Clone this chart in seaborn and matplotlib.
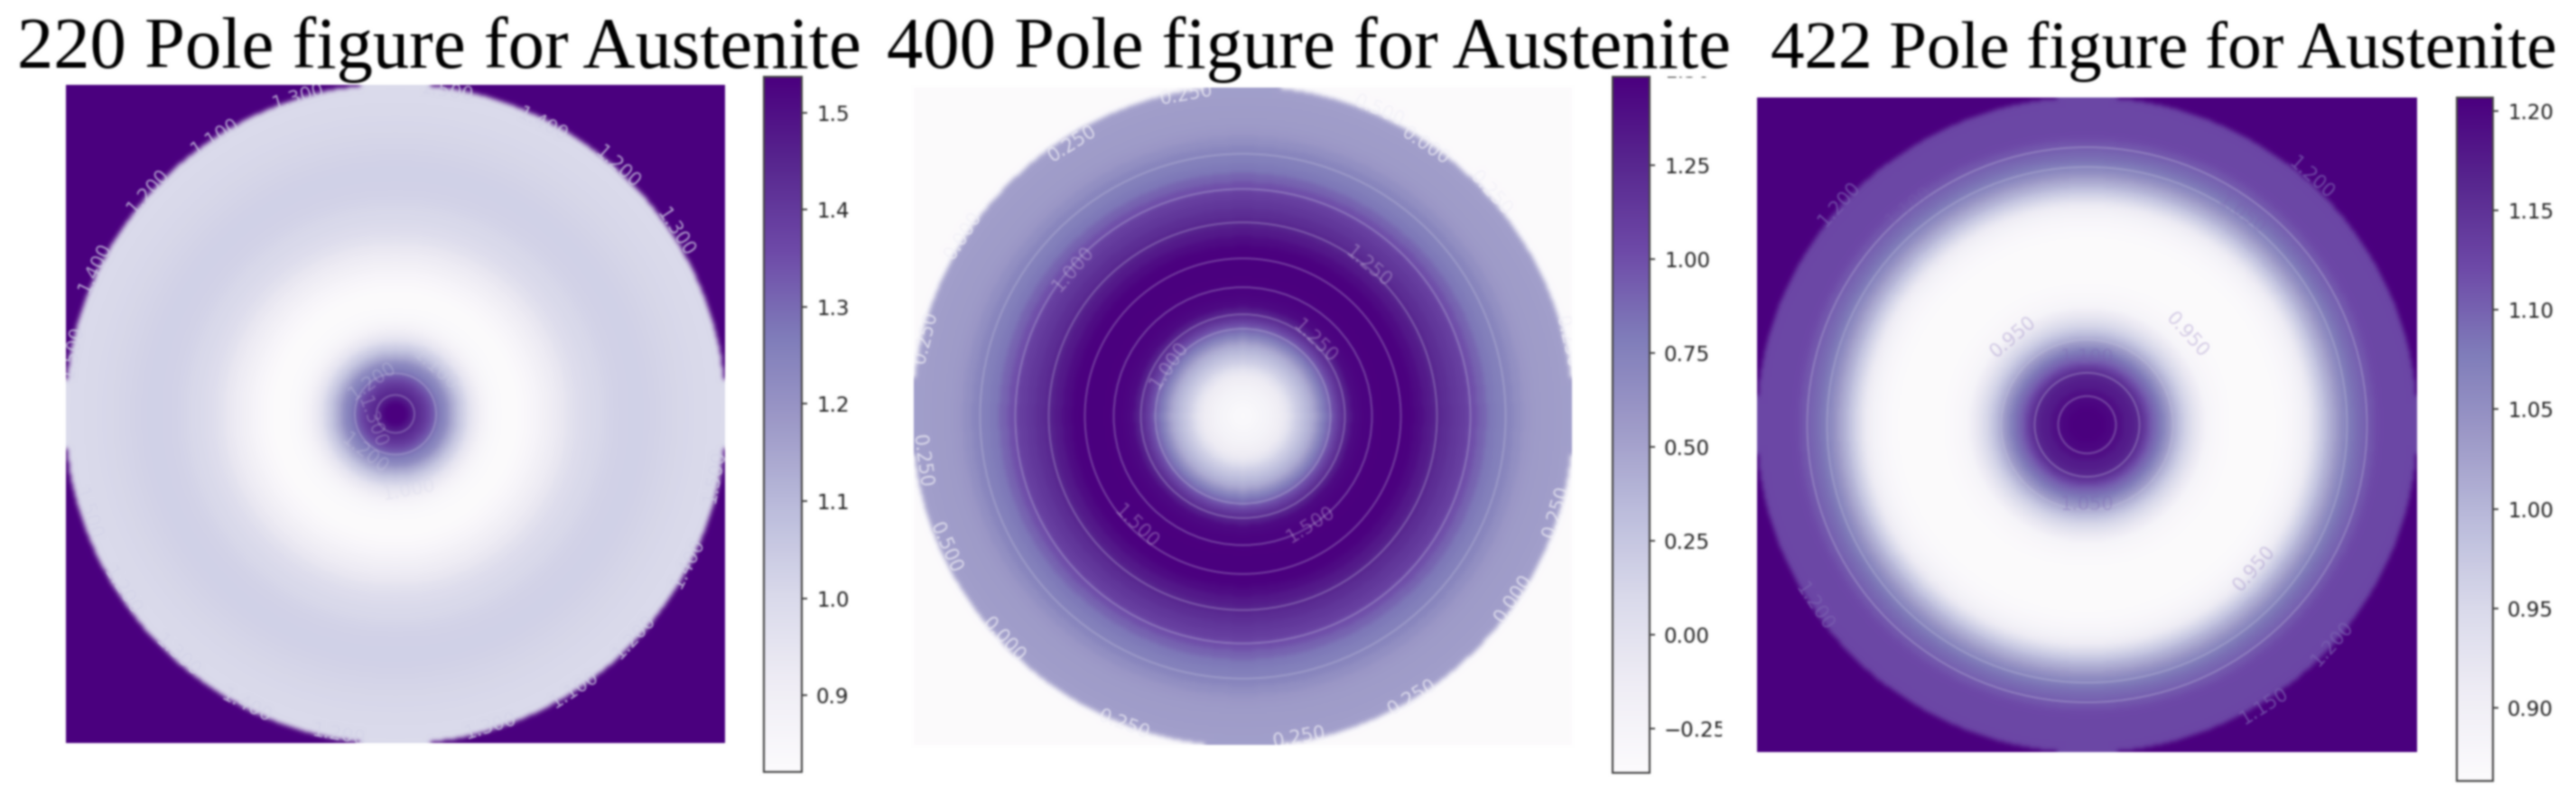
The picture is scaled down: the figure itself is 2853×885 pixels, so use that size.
import numpy as np
import matplotlib
matplotlib.use('Agg')
import matplotlib.pyplot as plt
from matplotlib.patches import Circle
from matplotlib.transforms import Bbox
import seaborn as sns

W, H = 2853, 885

# radial profiles (radius in px of the original, value on the colour bar)
radii_220 = [0, 6, 10, 14, 17, 20, 23, 26, 29, 32, 35, 38, 41, 44, 47, 50, 53, 56, 60, 64, 68, 72, 76, 80, 85,
             90, 95, 102, 110, 120, 130, 140, 150, 160, 170, 180, 190, 200, 212, 225, 232, 240, 250, 260, 272, 285,
             297, 310, 322, 335, 350, 366]
values_220 = [1.537, 1.537, 1.537, 1.530, 1.500, 1.465, 1.450, 1.440, 1.425, 1.410, 1.395, 1.370, 1.350, 1.325,
              1.300, 1.265, 1.250, 1.235, 1.215, 1.150, 1.120, 1.070, 1.040, 1.015, 0.960,
              0.930, 0.900, 0.865, 0.842, 0.828, 0.821, 0.825, 0.838, 0.858, 0.884, 0.910, 0.935, 0.962, 0.985,
              1.000, 1.008, 1.015, 1.020, 1.025, 1.027, 1.025, 1.018, 1.012, 1.007, 1.003, 0.999, 0.995]
radii_400 = [0, 15, 25, 32, 38, 44, 48, 52, 56, 60, 64, 68, 72, 76, 80, 84, 88, 92, 96, 100, 105, 110, 115, 120,
             130, 140, 150, 160, 170, 180, 190, 200, 210, 220, 230, 240, 250, 260, 270, 280, 290, 300, 310, 320,
             335, 350, 366]
values_400 = [-0.36, -0.33, -0.28, -0.24, -0.20, -0.15, -0.10, -0.03, 0.05, 0.15, 0.21, 0.27, 0.33, 0.39, 0.45,
              0.56, 0.68, 0.78, 0.86, 0.93, 1.04, 1.15, 1.23, 1.30,
              1.43, 1.46, 1.47, 1.48, 1.486, 1.486, 1.47, 1.41, 1.33, 1.26, 1.20, 1.14, 1.09, 1.00, 0.90, 0.80,
              0.76, 0.72, 0.64, 0.58, 0.55, 0.54, 0.53]
radii_422 = [0, 20, 30, 40, 50, 55, 60, 65, 70, 75, 80, 85, 90, 95, 100, 105, 110, 115, 120, 125, 130, 140, 150,
             160, 172, 190, 205, 220, 230, 238, 245, 250, 255, 260, 265, 270, 275, 280, 285, 290, 295, 300, 305,
             310, 318, 325, 340, 366]
values_422 = [1.207, 1.207, 1.200, 1.190, 1.175, 1.168, 1.160, 1.145, 1.120, 1.100, 1.090, 1.075, 1.050, 1.030,
              1.005, 0.985, 0.965, 0.950, 0.932, 0.915, 0.903, 0.880, 0.872,
              0.866, 0.863, 0.863, 0.864, 0.868, 0.875, 0.885, 0.900, 0.920, 0.945, 0.965, 0.985, 1.005, 1.020,
              1.040, 1.055, 1.070, 1.080, 1.090, 1.095, 1.100, 1.110, 1.120, 1.125, 1.125]

# colour bars
ticks_220 = [0.9, 1.0, 1.1, 1.2, 1.3, 1.4, 1.5]
labels_220 = ['0.9', '1.0', '1.1', '1.2', '1.3', '1.4', '1.5']
ticks_400 = [-0.25, 0.0, 0.25, 0.5, 0.75, 1.0, 1.25]
labels_400 = ['\u22120.25', '0.00', '0.25', '0.50', '0.75', '1.00', '1.25']
ticks_422 = [0.9, 0.95, 1.0, 1.05, 1.1, 1.15, 1.2]
labels_422 = ['0.90', '0.95', '1.00', '1.05', '1.10', '1.15', '1.20']

# contour rings (radius) and their labels (text, angle in degrees, radius)
rings_220 = [21, 45]
rings_400 = [97, 113, 143, 175, 215, 252, 291]
rings_422 = [32, 58, 95, 262, 288, 310]
notes_220 = [('1.300', 107, 367), ('1.500', 81, 362), ('1.400', 63, 360), ('1.200', 48, 368), ('1.300', 33, 369),
             ('1.100', 123, 366), ('1.200', 138, 369), ('1.400', 154, 370), ('1.500', 169, 364), ('1.500', 198, 359),
             ('1.200', 213, 361), ('1.300', 228, 361), ('1.400', 243, 364), ('1.200', 260, 362), ('1.300', 287, 362),
             ('1.100', 303, 365), ('1.200', 317, 362), ('1.400', 333, 364), ('1.500', 349, 360),
             ('1.000', 280, 86), ('1.200', 232, 56), ('1.100', 48, 66), ('1.200', 125, 45), ('1.300', 200, 28)]
notes_400 = [('0.250', 100, 362), ('0.250', 122, 357), ('0.000', 147, 369), ('0.250', 166, 362), ('0.500', 66, 371),
             ('0.000', 56, 362), ('0.250', 42, 370), ('0.250', 13, 368), ('0.250', 188, 359), ('0.500', 204, 360),
             ('0.000', 223, 363), ('0.250', 249, 367), ('0.250', 280, 362), ('0.250', 301, 364), ('0.000', 326, 362),
             ('0.250', 343, 363), ('1.250', 50, 216), ('1.250', 46, 115), ('1.000', 139, 249), ('1.000', 145, 100),
             ('1.500', 226, 170), ('1.500', 302, 142)]
notes_422 = [('1.200', 48, 371), ('1.050', 54, 290), ('1.100', 129, 314), ('1.200', 138, 369), ('0.950', 130, 128),
             ('0.950', 42, 149), ('1.100', 90, 75), ('1.050', 270, 89), ('1.200', 214, 364), ('1.150', 302, 370),
             ('1.200', 318, 365), ('0.950', 319, 245)]

titles = ['220 Pole figure for Austenite', '400 Pole figure for Austenite', '422 Pole figure for Austenite']
title_sizes = [58, 58, 54]

sns.set_theme(style='white')
plt.rcParams['font.family'] = ['DejaVu Sans']

fig = plt.figure(figsize=(W / 100, H / 100), dpi=100)

# Purples with the darker end pushed a little towards the picture's indigo
pal = sns.blend_palette(['#fcfbfd', '#efedf5', '#dadaeb', '#bcbddc', '#9e9ac8', '#807dba',
                         '#6e4aa8', '#58278f', '#4b007f'], n_colors=256, as_cmap=True)


def soften(sigma):
    # the picture is an upscaled screenshot, so everything in it is a bit soft
    x = np.arange(-int(3 * sigma), int(3 * sigma) + 1)
    kern = np.exp(-x ** 2 / (2 * sigma ** 2))
    kern = kern / kern.sum()
    pad = len(x) // 2

    def run(img, dpi):
        out = np.pad(img, ((pad, pad), (pad, pad), (0, 0)), mode='edge')
        for axis in (0, 1):
            tmp = np.zeros_like(out)
            for k, shift in zip(kern, x):
                tmp += k * np.roll(out, shift, axis=axis)
            out = tmp
        return out[pad:-pad, pad:-pad], 0, 0
    return run


def px_axes(x0, y0, x1, y1):
    return fig.add_axes([x0 / W, 1 - y1 / H, (x1 - x0) / W, (y1 - y0) / H])


def pole_panel(box, bar, radii, values, outside, vmin, vmax, ticks, labels, rings, notes, note_color):
    ax = px_axes(*box)
    cax = px_axes(*bar)
    n = 365
    width = box[2] - box[0]
    # each cell takes the value of the ring it falls in
    c = (np.arange(n) + 0.5 - n / 2) * width / n
    dist = np.hypot(*np.meshgrid(c, c))
    idx = np.clip(np.searchsorted(np.array(radii), dist), 0, len(radii) - 1)
    cells = np.array(values)[idx]
    cells[dist > radii[-1]] = outside
    sns.heatmap(cells, ax=ax, cbar_ax=cax, cmap=pal, vmin=vmin, vmax=vmax, xticklabels=False, yticklabels=False,
                cbar_kws={'ticks': ticks})
    ax.collections[0].set_agg_filter(soften(2.5))
    cax.set_yticks(ticks)
    cax.set_yticklabels(labels, fontsize=16.5, color='#222222')
    cax.tick_params(axis='y', length=4, width=1.3, color='#333333', pad=7.5, left=False, right=True)
    cb = ax.collections[0].colorbar
    cb.outline.set_visible(True)
    cb.outline.set_edgecolor('#444444')
    cb.outline.set_linewidth(1.5)

    cell = n / width
    for r in rings:
        ax.add_patch(Circle((n / 2, n / 2), r * cell, fill=False, ec='#c9c9e3', lw=1.5, alpha=0.3))
    for txt, ang, r in notes:
        a = np.deg2rad(ang)
        rot = (ang - 90 + 90) % 180 - 90
        ax.text(n / 2 + r * cell * np.cos(a), n / 2 - r * cell * np.sin(a), txt, rotation=rot, ha='center', va='center',
                rotation_mode='anchor', fontsize=15, color=note_color, alpha=0.75 if r > 340 else 0.3, clip_on=True)
    return ax, cax


ax1, cax1 = pole_panel((73, 94, 803, 823), (846, 85, 888, 855), radii_220, values_220, 1.537, 0.821, 1.537,
                       ticks_220, labels_220, rings_220, notes_220, '#d4d4e8')
ax2, cax2 = pole_panel((1012, 97, 1741, 825), (1786, 85, 1827, 856), radii_400, values_400, -0.368, -0.368, 1.486,
                       ticks_400, labels_400, rings_400, notes_400, '#f2f1f8')
ax3, cax3 = pole_panel((1946, 108, 2677, 833), (2721, 108, 2761, 865), radii_422, values_422, 1.207, 0.863, 1.207,
                       ticks_422, labels_422, rings_422, notes_422, '#7c62b2')

# the -0.25 label and the 1.50 label are cut off in the picture
cut = cax2.get_yticklabels()[0]
cut.set_clip_box(Bbox([[1700, 0], [1907, H]]))
cut.set_clip_on(True)
top = fig.text(1843 / W, 1 - 79 / H, '1.50', fontsize=16.5, color='#222222', va='center')
top.set_clip_box(Bbox([[1700, 0], [1950, H - 85]]))
top.set_clip_on(True)

serif = ['Liberation Serif', 'DejaVu Serif']
for txt, x, size in zip(titles, [19, 982, 1961], title_sizes):
    fig.text(x / W, 1 - 75 / H, txt, family=serif, fontsize=size, color='black', ha='left', va='baseline', zorder=5)

fig.set_agg_filter(soften(1.1))
fig.savefig('out.png', dpi=100, facecolor='white')
